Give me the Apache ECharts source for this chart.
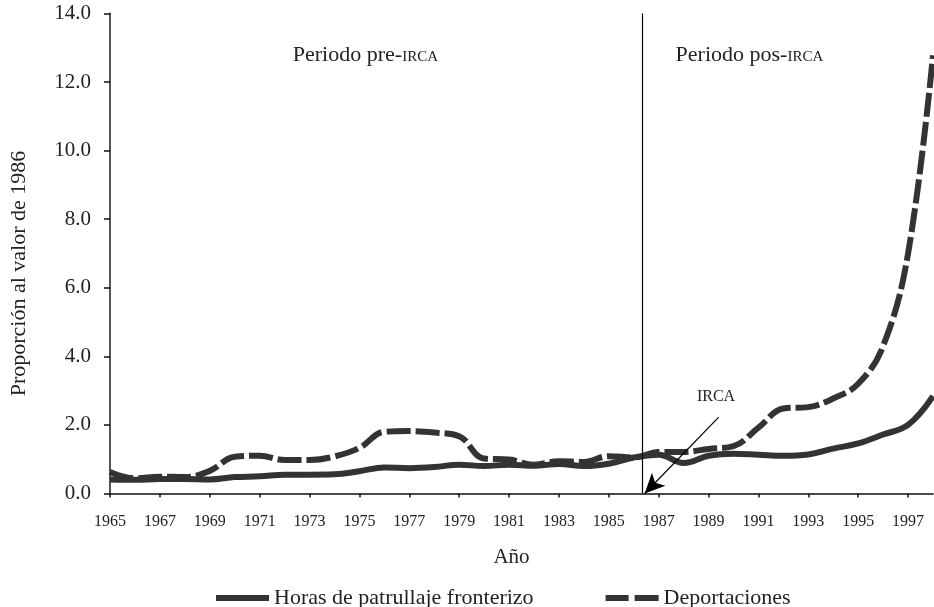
<!DOCTYPE html>
<html>
<head>
<meta charset="utf-8">
<script src="https://cdn.jsdelivr.net/npm/echarts@6/dist/echarts.min.js"></script>
<style>
  html, body { margin: 0; padding: 0; background: #fff; }
  #chart { width: 934px; height: 607px; }
</style>
</head>
<body>
<div id="chart"></div>
<script>
// años 1965-1998
const years = [];
for (let y = 1965; y <= 1998; y++) years.push(String(y));

// proporción al valor de 1986
const horasPatrullaje = [0.41, 0.40, 0.42, 0.42, 0.41, 0.48, 0.50, 0.55, 0.55, 0.56,
  0.65, 0.76, 0.74, 0.77, 0.84, 0.80, 0.84, 0.81, 0.86, 0.80,
  0.87, 1.05, 1.13, 0.89, 1.10, 1.16, 1.13, 1.10, 1.14, 1.31,
  1.46, 1.72, 2.00, 2.84];
const deportaciones = [0.63, 0.44, 0.49, 0.48, 0.66, 1.07, 1.10, 0.98, 0.98, 1.08,
  1.33, 1.80, 1.82, 1.78, 1.67, 1.02, 0.99, 0.84, 0.94, 0.92,
  1.09, 1.05, 1.21, 1.21, 1.30, 1.38, 1.92, 2.48, 2.52, 2.77,
  3.20, 4.30, 7.00, 12.78];

// anotaciones
const ircaYear = 1986.33;
const arrowFrom = [1989.4, 2.22];
const arrowTo = [1986.44, 0.0];
const periodLabels = [
  { coord: [1975.24, 12.79], pre: 'Periodo pre-', caps: 'IRCA' },
  { coord: [1990.64, 12.79], pre: 'Periodo pos-', caps: 'IRCA' }
];
const ircaLabel = { coord: [1989.3, 2.82], text: 'IRCA' };

const serif = '"Liberation Serif", "DejaVu Serif", serif';
const ink = '#333';

const chart = echarts.init(document.getElementById('chart'));

chart.setOption({
  animation: false,
  textStyle: { fontFamily: serif, color: '#222' },
  grid: { left: 108, right: 1, top: 13.5, bottom: 113.5, containLabel: false },
  legend: {
    left: 211,
    top: 582,
    itemWidth: 53,
    itemHeight: 6,
    itemGap: 72,
    textStyle: { fontFamily: serif, fontSize: 22, color: '#222' },
    data: [
      { name: 'Horas de patrullaje fronterizo', icon: 'rect' },
      { name: 'Deportaciones', icon: 'path://M0,0H23V6H0Z M29,0H53V6H29Z' }
    ]
  },
  xAxis: [
    {
      type: 'category',
      data: years,
      boundaryGap: false,
      name: 'Año',
      nameLocation: 'middle',
      nameGap: 53,
      nameTextStyle: { fontFamily: serif, fontSize: 21, color: '#222', padding: [0, 20, 0, 0] },
      axisLine: { lineStyle: { color: '#111', width: 1.5 } },
      axisTick: { interval: 1, length: 4, lineStyle: { color: '#111', width: 1.5 } },
      axisLabel: { interval: 1, margin: 20, fontFamily: serif, fontSize: 16, color: '#222' },
      splitLine: { show: false }
    },
    {
      type: 'value',
      min: 1965,
      max: 1998,
      show: false
    }
  ],
  yAxis: {
    type: 'value',
    min: 0,
    max: 14,
    interval: 2,
    name: 'Proporción al valor de 1986',
    nameLocation: 'middle',
    nameGap: 80,
    nameTextStyle: { fontFamily: serif, fontSize: 22, color: '#222', padding: [0, 40, 0, 0] },
    axisLine: { show: true, lineStyle: { color: '#555', width: 2 } },
    axisTick: { show: true, length: 6, lineStyle: { color: '#111', width: 1.5 } },
    axisLabel: {
      margin: 19,
      fontFamily: serif,
      fontSize: 21,
      color: '#222',
      formatter: v => v.toFixed(1)
    },
    splitLine: { show: false }
  },
  series: [
    {
      name: 'Horas de patrullaje fronterizo',
      type: 'line',
      data: horasPatrullaje,
      smooth: 0.4,
      symbol: 'none',
      lineStyle: { color: ink, width: 6 },
      itemStyle: { color: ink },
      z: 3
    },
    {
      name: 'Deportaciones',
      type: 'line',
      data: deportaciones,
      smooth: 0.4,
      symbol: 'none',
      lineStyle: { color: ink, width: 6, type: [24, 5] },
      itemStyle: { color: ink },
      z: 3
    },
    {
      name: 'anotaciones',
      type: 'line',
      xAxisIndex: 1,
      data: [],
      silent: true,
      markLine: {
        silent: true,
        animation: false,
        label: { show: false },
        data: [
          [
            { coord: [ircaYear, 0], symbol: 'none' },
            { coord: [ircaYear, 14], symbol: 'none' }
          ],
          [
            { coord: arrowFrom, symbol: 'none' },
            { coord: arrowTo, symbol: 'arrow', symbolSize: [14, 20] }
          ]
        ],
        lineStyle: { color: '#000', width: 1.2, type: 'solid' }
      },
      markPoint: {
        silent: true,
        symbol: 'circle',
        symbolSize: 0,
        data: [
          ...periodLabels.map(p => ({
            coord: p.coord,
            label: {
              show: true,
              position: 'inside',
              formatter: '{a|' + p.pre + '}{b|' + p.caps + '}',
              rich: {
                a: { fontFamily: serif, fontSize: 22, color: '#222' },
                b: { fontFamily: serif, fontSize: 15, color: '#222', verticalAlign: 'bottom', padding: [0, 0, 1, 0] }
              }
            }
          })),
          {
            coord: ircaLabel.coord,
            label: {
              show: true,
              position: 'inside',
              formatter: ircaLabel.text,
              fontFamily: serif,
              fontSize: 16,
              color: '#222'
            }
          }
        ]
      }
    }
  ]
});
</script>
</body>
</html>
